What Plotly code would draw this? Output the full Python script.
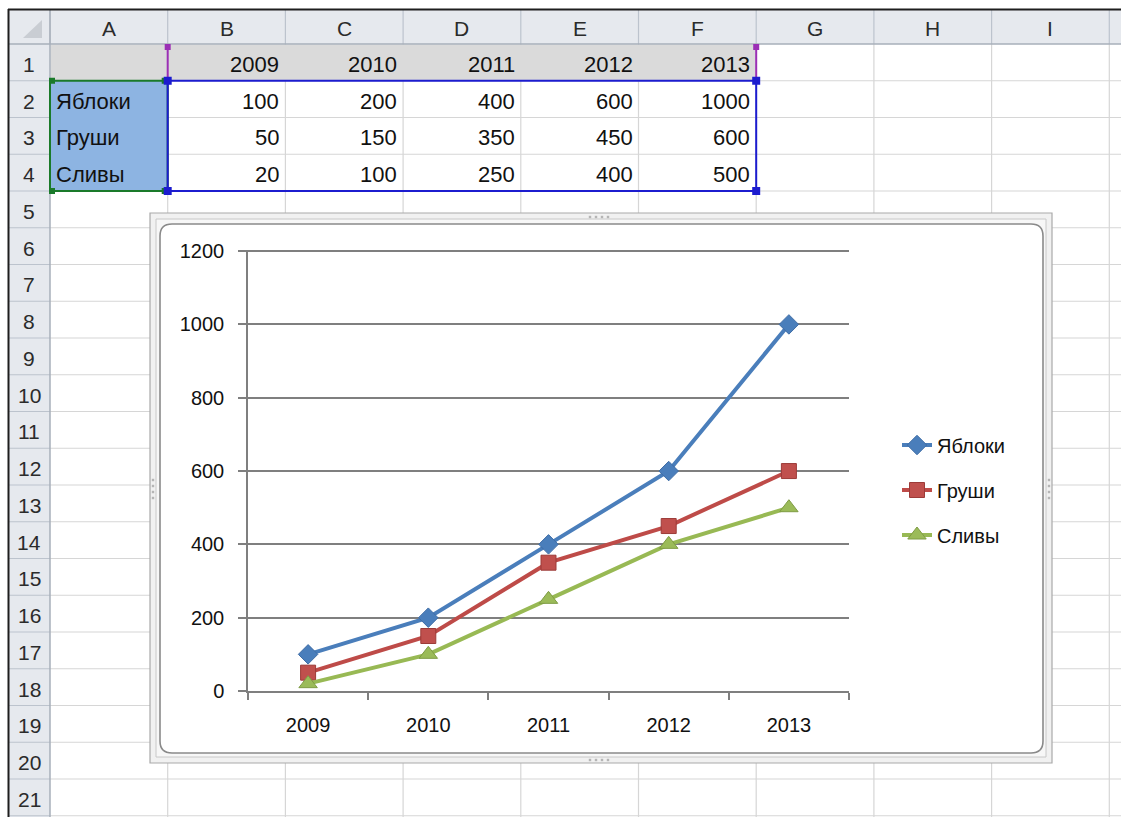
import plotly.graph_objects as go

# ---------------- data ----------------
years = ["2009", "2010", "2011", "2012", "2013"]
fruits = ["Яблоки", "Груши", "Сливы"]
apples = [100, 200, 400, 600, 1000]
pears = [50, 150, 350, 450, 600]
plums = [20, 100, 250, 400, 500]
series_values = [apples, pears, plums]
col_letters = ["A", "B", "C", "D", "E", "F", "G", "H", "I"]
n_rows = 21

# ---------------- geometry (pixels) ----------------
W, H = 1121, 817
PL, PR, PT, PB = 248, 849, 250, 691  # plot area


def fx(x):
    return (x - PL) / (PR - PL)


def fy(y):
    return (PB - y) / (PB - PT)


col_edges = [50 + i * 117.7 for i in range(11)]
row_edges = [44 + k * 36.75 for k in range(23)]

shapes = []


def rect(x0, y0, x1, y1, fill=None, line=None, lw=1.0):
    shapes.append(dict(type="rect", xref="paper", yref="paper",
                       x0=fx(x0), x1=fx(x1), y0=fy(y1), y1=fy(y0),
                       fillcolor=fill or "rgba(0,0,0,0)",
                       line=dict(color=line or "rgba(0,0,0,0)", width=lw if line else 0),
                       layer="below"))


def seg(x0, y0, x1, y1, color, w=1.0):
    shapes.append(dict(type="line", xref="paper", yref="paper",
                       x0=fx(x0), x1=fx(x1), y0=fy(y0), y1=fy(y1),
                       line=dict(color=color, width=w), layer="below"))


def rrect(x0, y0, x1, y1, r, fill, line, lw):
    def p(x, y):
        return f"{fx(x):.5f},{fy(y):.5f}"
    path = (f"M{p(x0 + r, y0)} L{p(x1 - r, y0)} Q{p(x1, y0)} {p(x1, y0 + r)} "
            f"L{p(x1, y1 - r)} Q{p(x1, y1)} {p(x1 - r, y1)} "
            f"L{p(x0 + r, y1)} Q{p(x0, y1)} {p(x0, y1 - r)} "
            f"L{p(x0, y0 + r)} Q{p(x0, y0)} {p(x0 + r, y0)} Z")
    shapes.append(dict(type="path", xref="paper", yref="paper", path=path,
                       fillcolor=fill, line=dict(color=line, width=lw), layer="below"))


# sheet grid lines
GRID = "#d6d6d6"
for y in row_edges[1:]:
    seg(50, y, W, y, GRID, 1.2)
for x in col_edges[1:]:
    seg(x, 44, x, H, GRID, 1.2)

# cell fills
rect(50.5, 44.5, col_edges[6], row_edges[1], fill="#dadada")
rect(50.5, row_edges[1], col_edges[1], row_edges[4], fill="#8db4e2")

# headers
HDR = "#e6e9ee"
HSEP = "#bcc3cd"
rect(8, 9, W, 44, fill=HDR)
rect(8, 44, 50, H, fill=HDR)
for x in col_edges[:10]:
    seg(x, 9, x, 44, HSEP, 1.2)
for y in row_edges[1:]:
    seg(8, y, 50, y, HSEP, 1.2)
seg(8, 44, W, 44, "#a7afba", 1.5)
seg(50, 9, 50, H, "#a7afba", 1.5)
shapes.append(dict(type="path", xref="paper", yref="paper",
                   path=f"M{fx(42)},{fy(20)} L{fx(42)},{fy(38)} L{fx(23)},{fy(38)} Z",
                   fillcolor="#c9cdd3", line=dict(width=0), layer="below"))
seg(8, 9.5, W, 9.5, "#1e1e1e", 2)
seg(8.5, 9, 8.5, H, "#1e1e1e", 2)

# selection borders
PUR = "#9b2fb5"
BLU = "#1c1ccf"
GRN = "#1a7a2a"
cB, cF, cG = col_edges[1], col_edges[6], col_edges[0]
r1t, r2t, r4b = 47, row_edges[1], row_edges[4]
seg(cB, r1t, cB, r2t, PUR, 2)
seg(cF, r1t, cF, r2t, PUR, 2)
rect(cG, r2t, cB, r4b, line=GRN, lw=2)
rect(cB, r2t, cF, r4b, line=BLU, lw=2)
for (x, y) in [(cG, r2t), (cG, r4b)]:
    rect(x - 1, y - 3, x + 5, y + 3, fill=GRN)
for (x, y) in [(cB - 3, r2t), (cB - 3, r4b)]:
    rect(x - 3, y - 3, x + 1, y + 3, fill=GRN)
for (x, y) in [(cB, r1t), (cF, r1t)]:
    rect(x - 3, y - 3, x + 3, y + 3, fill=PUR)
for (x, y) in [(cB, r2t), (cF, r2t), (cB, r4b), (cF, r4b)]:
    rect(x - 4, y - 4, x + 4, y + 4, fill=BLU)

# chart frame
rect(150, 213, 1052, 763, fill="#f1f1f1", line="#a9a9a9", lw=1.2)
rect(156, 219, 1046, 757, fill="#f7f7f7", line="#c8c8c8", lw=1)
rrect(160, 224, 1043, 753, 12, "#ffffff", "#8a8a8a", 1.6)
# frame handle dots
for cx in [590, 596, 602, 608]:
    for cy in [217, 760]:
        rect(cx - 1.2, cy - 1.2, cx + 1.2, cy + 1.2, fill="#b5b5b5")
for cy in [480, 486, 492, 498]:
    for cx in [153, 1049]:
        rect(cx - 1.2, cy - 1.2, cx + 1.2, cy + 1.2, fill="#b5b5b5")

# ---------------- annotations (sheet text) ----------------
annotations = []
SHEET_FONT = dict(family="Liberation Sans, Arial, sans-serif", size=22, color="#111111")
HDR_FONT = dict(family="Liberation Sans, Arial, sans-serif", size=21, color="#2b2b2b")


def ann(text, x, y, xanchor, font):
    annotations.append(dict(text=text, x=fx(x), y=fy(y), xref="paper", yref="paper",
                            xanchor=xanchor, yanchor="middle", showarrow=False, font=font))


for i, letter in enumerate(col_letters):
    ann(letter, (col_edges[i] + col_edges[i + 1]) / 2, 28, "center", HDR_FONT)
for r in range(1, n_rows + 1):
    ann(str(r), 29, (row_edges[r - 1] + row_edges[r]) / 2 + 2, "center", HDR_FONT)


def row_mid(r):
    return (row_edges[r - 1] + row_edges[r]) / 2 + 2


for j, yr in enumerate(years):
    ann(yr, col_edges[j + 2] - 4, row_mid(1), "right", SHEET_FONT)
for i, name in enumerate(fruits):
    ann(name, col_edges[0] + 4, row_mid(i + 2), "left", SHEET_FONT)
    for j, v in enumerate(series_values[i]):
        ann(str(v), col_edges[j + 2] - 4, row_mid(i + 2), "right", SHEET_FONT)

# ---------------- chart ----------------
line_colors = ["#4a7ebb", "#be4b48", "#98b954"]
marker_fill = ["#4a7ebb", "#c0504d", "#9bbb59"]
marker_line = ["#3f6da6", "#9c3b38", "#7f9c45"]
symbols = ["diamond", "square", "triangle-up"]
sizes = [15, 15, 16]

fig = go.Figure()
for i, name in enumerate(fruits):
    fig.add_trace(go.Scatter(
        x=years, y=series_values[i], name=name, mode="lines+markers",
        legendgroup=name,
        line=dict(color=line_colors[i], width=4),
        marker=dict(symbol=symbols[i], size=sizes[i], color=marker_fill[i],
                    line=dict(color=marker_line[i], width=1)),
        cliponaxis=False,
    ))

AX = "#7f7f7f"
CH_FONT = dict(family="Liberation Sans, Arial, sans-serif", size=20, color="#111111")
fig.update_layout(
    width=W, height=H, autosize=False,
    margin=dict(l=PL, r=W - PR, t=PT, b=H - PB, pad=0),
    paper_bgcolor="#ffffff", plot_bgcolor="rgba(0,0,0,0)",
    shapes=shapes, annotations=annotations,
    showlegend=True,
    legend=dict(x=fx(897), y=fy(490), xanchor="left", yanchor="middle",
                font=CH_FONT, bgcolor="rgba(0,0,0,0)", tracegroupgap=16,
                traceorder="grouped"),
    xaxis=dict(type="category", range=[-0.5, 4.5], showgrid=False, zeroline=False,
               showline=True, linecolor=AX, linewidth=1.5,
               ticks="outside", tickson="boundaries", ticklen=7, tickcolor=AX, tickwidth=1.5,
               tickfont=CH_FONT, ticklabelstandoff=15, fixedrange=True),
    yaxis=dict(range=[0, 1203], dtick=200, tick0=0, showgrid=True, gridcolor=AX, gridwidth=1.5,
               zeroline=False, showline=True, linecolor=AX, linewidth=1.5,
               ticks="outside", ticklen=8, tickcolor=AX, tickwidth=1.5,
               tickfont=CH_FONT, ticklabelstandoff=10, fixedrange=True),
)

fig.write_html("out.html", config={"displayModeBar": False},
               post_script="document.body.style.margin='0';document.body.style.overflow='hidden';")
